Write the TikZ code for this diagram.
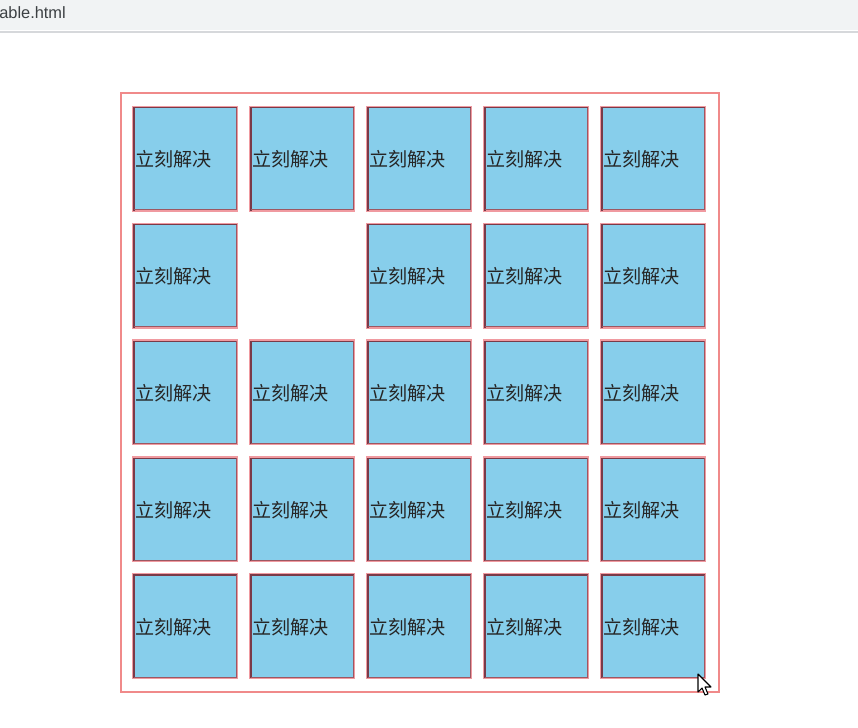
\documentclass[tikz,border=0pt]{standalone}
\usepackage{fontspec}
\newfontfamily\cjk{Noto Sans CJK SC}
\newfontfamily\uifont{Liberation Sans}
\definecolor{skyb}{HTML}{87CEEB}
\definecolor{outerred}{HTML}{F08A8A}
\definecolor{cellpink}{HTML}{F09AA0}
\definecolor{celldark}{HTML}{7A3A48}
\definecolor{barbg}{HTML}{F1F3F4}
\definecolor{barline}{HTML}{D6D8DB}
\definecolor{bartext}{HTML}{3C4043}
\begin{document}
\begin{tikzpicture}[x=0.75pt,y=-0.75pt,
  cellbox/.style={fill=skyb,draw=cellpink,line width=1.5pt},
  celltxt/.style={anchor=west,inner sep=0pt,font=\cjk\fontsize{14.3}{16}\selectfont,text=black!85}]
\useasboundingbox (0,0) rectangle (858,728);
\fill[white] (0,0) rectangle (858,728);
% browser bar
\fill[barbg] (0,0) rectangle (858,30);
\fill[barline] (0,30.5) rectangle (858,33);
\node[anchor=west,inner sep=0pt,font=\uifont\fontsize{12.3}{14}\selectfont,text=bartext] (url) at (-1,12.5) {able.html};
% outer table border
\node[draw=outerred,line width=1.1pt,minimum width=598*0.75pt,minimum height=599*0.75pt,inner sep=0pt] (tbl) at (420,392.5) {};
% cells
\foreach \r in {0,...,4}{
  \foreach \c in {0,...,4}{
    \pgfmathtruncatemacro{\skip}{(\r==1 && \c==1) ? 1 : 0}
    \ifnum\skip=0
      \pgfmathsetmacro{\xx}{133+117*\c}
      \pgfmathsetmacro{\yy}{106.7+116.8*\r}
      \draw[cellbox] (\xx,\yy) rectangle ++(104,104);
      \draw[celldark,line width=0.9pt] (\xx+1,\yy+104) -- (\xx+1,\yy+1) -- (\xx+104,\yy+1);
      \draw[celldark!70!cellpink,line width=0.6pt] (\xx+103,\yy+1) -- (\xx+103,\yy+103) -- (\xx+1,\yy+103);
      \node[celltxt] (t\r\c) at (\xx+2,\yy+53) {立刻解决};
    \fi
  }
}
% mouse cursor
\draw[fill=white,draw=black,line width=0.8pt,line join=round]
  (698,674) -- (698,692) -- (702,688) -- (705,695) -- (708,694) -- (705,687) -- (711,687) -- cycle;
\end{tikzpicture}
\end{document}
